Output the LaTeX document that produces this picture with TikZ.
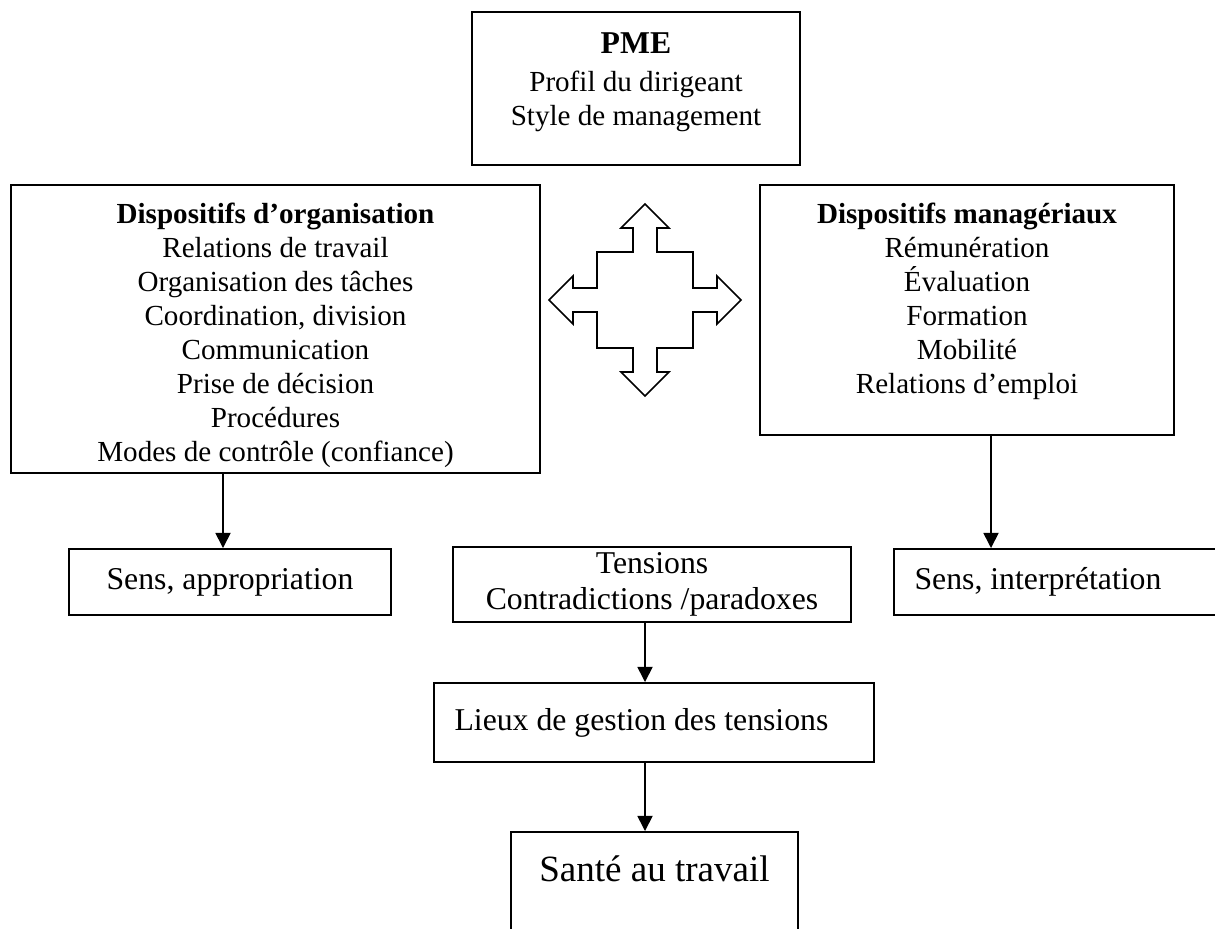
\documentclass[tikz,border=0pt]{standalone}
\usepackage{fontspec}
\setmainfont{Liberation Serif}
\usetikzlibrary{arrows.meta, positioning}
\newcommand{\pxu}{0.378pt}

\begin{document}
\begin{tikzpicture}[
    x=\pxu, y=-\pxu,
    box/.style={draw, line width=0.75pt, inner sep=0pt},
    txt/.style={align=center, inner sep=0pt, font=\fontsize{11}{12.9}\selectfont},
    txtl/.style={align=center, inner sep=0pt, font=\fontsize{12}{13.4}\selectfont},
    link/.style={-{Triangle[length=5.7pt, width=5.7pt]}, line width=0.6pt},
]
    \useasboundingbox (0,0) rectangle (1215,928);
    \clip (0,0) rectangle (1215,928);

    % Top box
    \node[box, minimum width=328*\pxu, minimum height=153*\pxu] (pme) at (636,88.5) {};
    \node[txt, below=21*\pxu of pme.north] (pmetext)
        {{\fontsize{12}{12.9}\selectfont\bfseries PME}\\[1.5pt] Profil du dirigeant\\ Style de management};

    % Left box
    \node[box, minimum width=529*\pxu, minimum height=288*\pxu] (org) at (275.5,329) {};
    \node[txt, below=18*\pxu of org.north] (orgtext)
        {\textbf{Dispositifs d’organisation}\\ Relations de travail\\ Organisation des tâches\\
         Coordination, division\\ Communication\\ Prise de décision\\ Procédures\\
         Modes de contrôle (confiance)};

    % Right box
    \node[box, minimum width=414*\pxu, minimum height=250*\pxu] (mgr) at (967,310) {};
    \node[txt, below=18*\pxu of mgr.north] (mgrtext)
        {\textbf{Dispositifs managériaux}\\ Rémunération\\ Évaluation\\ Formation\\ Mobilité\\ Relations d’emploi};

    % Four-way arrow
    \coordinate (hub) at (645,300);
    \draw[line width=0.6pt, shift={(hub)}]
        (0,-96) -- (24,-72) -- (12,-72) -- (12,-48) -- (48,-48) -- (48,-12) -- (72,-12) -- (72,-24)
        -- (96,0) -- (72,24) -- (72,12) -- (48,12) -- (48,48) -- (12,48) -- (12,72) -- (24,72)
        -- (0,96) -- (-24,72) -- (-12,72) -- (-12,48) -- (-48,48) -- (-48,12) -- (-72,12) -- (-72,24)
        -- (-96,0) -- (-72,-24) -- (-72,-12) -- (-48,-12) -- (-48,-48) -- (-12,-48) -- (-12,-72) -- (-24,-72)
        -- cycle;

    % Middle row
    \node[box, txtl, minimum width=322*\pxu, minimum height=66*\pxu] (appro) at (230,582) {Sens, appropriation};
    \node[box, txtl, minimum width=398*\pxu, minimum height=75*\pxu] (tens) at (652,584.5)
        {Tensions\\ Contradictions /paradoxes};
    \node[box, minimum width=356*\pxu, minimum height=66*\pxu] (interp) at (1072,582) {};
    \node[txtl, right=21*\pxu of interp.west] (interptext) {Sens, interprétation};

    % Bottom
    \node[box, minimum width=440*\pxu, minimum height=79*\pxu] (lieux) at (654,722.5) {};
    \node[txtl, right=21*\pxu of lieux.west] (lieuxtext) {Lieux de gestion des tensions};
    \node[box, minimum width=287*\pxu, minimum height=128*\pxu] (sante) at (654.5,896) {};
    \node[below=24*\pxu of sante.north, inner sep=0pt, font=\fontsize{14}{16}\selectfont] (santetext)
        {Santé au travail};

    % Links
    \draw[link] ([xshift=-7*\pxu]appro.north |- org.south) -- ([xshift=-7*\pxu]appro.north);
    \draw[link] ([xshift=24*\pxu]mgr.south) -- ([xshift=24*\pxu]mgr.south |- interp.north);
    \draw[link] (tens.south -| hub) -- (lieux.north -| hub);
    \draw[link] (lieux.south -| hub) -- (sante.north -| hub);
\end{tikzpicture}
\end{document}
